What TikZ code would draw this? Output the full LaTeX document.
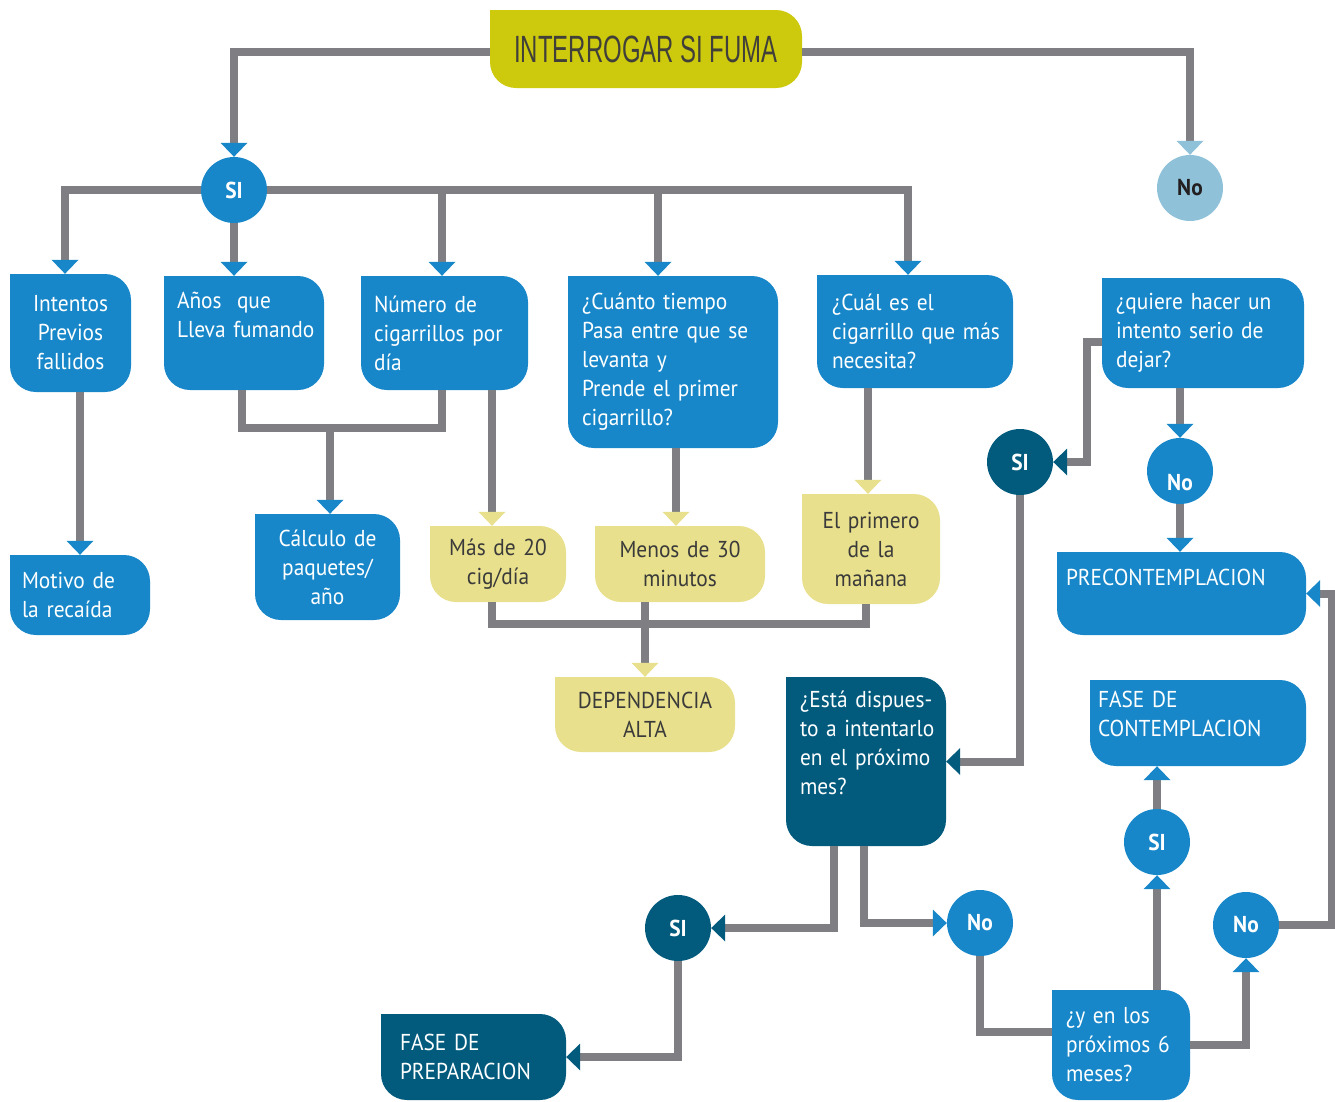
\documentclass[tikz,border=0pt]{standalone}
\usepackage{fontspec}
\setmainfont[FakeStretch=0.93]{PT Sans}
\newfontfamily\condfont[FakeStretch=0.63]{Liberation Sans}
\usetikzlibrary{arrows.meta,backgrounds}

\definecolor{flowblue}{HTML}{1787C9}
\definecolor{flowteal}{HTML}{025B7D}
\definecolor{flowlight}{HTML}{8FC1D9}
\definecolor{flowsand}{HTML}{E8E08C}
\definecolor{titleyellow}{HTML}{CDC90C}
\definecolor{linegrey}{HTML}{7F7F83}
\definecolor{textgrey}{HTML}{3A3A3A}
\definecolor{titlegrey}{HTML}{403F3A}
\definecolor{notext}{HTML}{231F20}

\hyphenpenalty=10000
\exhyphenpenalty=10000
\newcommand{\bodyfont}{\fontsize{23}{29}\selectfont}
\newcommand{\bubblefont}{\bfseries\fontsize{23}{23}\selectfont}
\newcommand{\headfont}{\condfont\fontsize{38}{40}\selectfont}

\tikzset{
  flowbox/.style={rounded corners=26pt, inner xsep=0pt, inner ysep=4pt, font=\bodyfont},
  bluebox/.style={flowbox, fill=flowblue, text=white},
  tealbox/.style={flowbox, fill=flowteal, text=white},
  sandbox/.style={flowbox, fill=flowsand, text=textgrey},
  titlebox/.style={flowbox, fill=titleyellow, text=titlegrey, font=\headfont},
  boxsize/.style n args={3}{minimum width=#1pt, minimum height=#2pt, text width=#3pt},
  bubble/.style={circle, minimum size=66pt, inner sep=0pt, font=\bubblefont, text=white},
  wire/.style={draw=linegrey, line width=8pt},
  endtip/.style={-{Triangle[width=27pt,length=14pt,line width=0pt,fill=#1,color=#1]}}
}

\begin{document}
\begin{tikzpicture}[x=1pt, y=-1pt]
  \useasboundingbox (0,0) rectangle (1335,1101);

  % top
  \node[titlebox, minimum width=312pt, minimum height=78pt] (title) at (646,49) {INTERROGAR SI FUMA};
  \node[bubble, fill=flowblue] (siTop) at (234,190) {SI};
  \node[bubble, fill=flowlight, text=notext] (noTop) at (1190,188) {No};

  % first row
  \node[bluebox, boxsize={121}{118}{110}, align=center] (intentos) at (70.5,333) {Intentos\\Previos\\fallidos};
  \node[bluebox, boxsize={160}{114}{134}, align=left] (anios) at (244,333) {Años\ \ que\\Lleva~fumando\par\vspace{36pt}};
  \node[bluebox, boxsize={167}{114}{141}, align=left] (numero) at (444.5,333) {Número de\\cigarrillos por\\día};
  \node[bluebox, boxsize={210}{172}{182}, align=left] (cuanto) at (673,362) {¿Cuánto tiempo\\Pasa entre que se\\levanta y\\Prende el primer\\cigarrillo?};
  \node[bluebox, boxsize={196}{113}{166}, align=left] (cual) at (915,331.5) {¿Cuál es el\\cigarrillo~que~más\\necesita?};
  \node[bluebox, boxsize={202}{110}{174}, align=left] (quiere) at (1203,333) {¿quiere hacer un\\intento serio de\\dejar?};

  % second row
  \node[bluebox, boxsize={140}{80}{116}, align=left] (motivo) at (80,595) {Motivo de\\la recaída};
  \node[bluebox, boxsize={145}{106}{130}, align=center] (calculo) at (327.5,567) {Cálculo de\\paquetes/\\año};
  \node[sandbox, boxsize={136}{76}{130}, align=center] (mas20) at (498,564) {Más de 20\\cig/día};
  \node[sandbox, boxsize={170}{76}{160}, align=center] (menos30) at (680,564) {Menos de 30\\minutos};
  \node[sandbox, boxsize={138}{110}{130}, align=center] (primero) at (871,549) {El primero\\de la\\mañana};
  \node[sandbox, boxsize={180}{75}{170}, align=center] (dep) at (645,714.5) {DEPENDENCIA\\ALTA};
  \node[bubble, fill=flowteal] (siR) at (1020,462) {SI};
  \node[bubble, fill=flowblue] (noR) at (1180,471) {\rule{0pt}{40pt}No};
  \node[bluebox, boxsize={249}{83}{231}, align=left] (precon) at (1181.5,593.5) {PRECONTEMPLACION\par\vspace{32pt}};

  % lower part
  \node[tealbox, boxsize={160}{169}{132}, align=left] (esta) at (866,761.5) {¿Está~dispues-\\to~a~intentarlo\\en el próximo\\mes?\par\vspace{38pt}};
  \node[bluebox, boxsize={216}{86}{200}, align=left] (contemp) at (1198,723) {FASE DE\\CONTEMPLACION\par\vspace{18pt}};
  \node[bubble, fill=flowblue] (siC) at (1157,842) {SI};
  \node[bubble, fill=flowteal] (siB) at (678,928) {SI};
  \node[bubble, fill=flowblue] (noB) at (980,923) {No};
  \node[bubble, fill=flowblue] (noC) at (1246,925) {No};
  \node[tealbox, boxsize={185}{86}{147}, align=left] (prep) at (473.5,1057) {FASE DE\\PREPARACION};
  \node[bluebox, boxsize={138}{110}{110}, align=left] (yen) at (1121,1045) {¿y en los\\próximos~6\\meses?};

  % square top-left corners
  \begin{scope}[on background layer]
    \foreach \n/\c in {title/titleyellow, intentos/flowblue, anios/flowblue, numero/flowblue,
        cuanto/flowblue, cual/flowblue, quiere/flowblue, motivo/flowblue, calculo/flowblue,
        mas20/flowsand, menos30/flowsand, primero/flowsand, dep/flowsand, precon/flowblue,
        esta/flowteal, contemp/flowblue, prep/flowteal, yen/flowblue}
      \fill[\c] (\n.north west) rectangle ++(26,26);
  \end{scope}

  % connectors
  \draw[wire, endtip=flowblue] ([yshift=-3pt]title.west) -| (siTop);
  \draw[wire, endtip=flowlight] ([yshift=-3pt]title.east) -| (noTop);
  \draw[wire, endtip=flowblue] (siTop) -| ([xshift=-5.5pt]intentos.north);
  \draw[wire, endtip=flowblue] (siTop) -- (siTop |- anios.north);
  \draw[wire, endtip=flowblue] (siTop) -| ([xshift=-2.5pt]numero.north);
  \draw[wire, endtip=flowblue] (siTop) -| ([xshift=-15pt]cuanto.north);
  \draw[wire, endtip=flowblue] (siTop) -| ([xshift=-7pt]cual.north);

  \draw[wire, endtip=flowblue] (intentos.south -| motivo.north) -- (motivo.north);
  \draw[wire] ([xshift=-2pt]anios.south) -- ++(0,38) -| ([xshift=-2.5pt]numero.south);
  \coordinate (joinA) at (330,428);
  \draw[wire, endtip=flowblue] (joinA) -- (joinA |- calculo.north);

  \draw[wire, endtip=flowsand] (492,0 |- numero.south) -- (492,0 |- mas20.north);
  \draw[wire, endtip=flowsand] (676,0 |- cuanto.south) -- (676,0 |- menos30.north);
  \draw[wire, endtip=flowsand] (868,0 |- cual.south) -- (868,0 |- primero.north);
  \draw[wire] (492,0 |- mas20.south) -- (492,624) -| (866,0 |- primero.south);
  \draw[wire, endtip=flowsand] (645,0 |- menos30.south) -- (645,0 |- dep.north);

  \draw[wire, endtip=flowteal] ([yshift=-9pt]quiere.west) -- ++(-15,0) |- (siR);
  \draw[wire, endtip=flowblue] (quiere.south -| noR) -- (noR);
  \draw[wire, endtip=flowblue] (noR) -- (noR |- precon.north);
  \draw[wire, endtip=flowteal] (siR) |- (esta);

  \draw[wire, endtip=flowteal] (834,0 |- esta.south) |- (siB);
  \draw[wire, endtip=flowblue] (864,0 |- esta.south) |- (noB);
  \draw[wire, endtip=flowteal] (siB) |- (prep);
  \draw[wire] (noB) |- ([yshift=13pt]yen.west);
  \draw[wire, endtip=flowblue] (yen.north -| siC) -- (siC);
  \draw[wire, endtip=flowblue] (siC) -- (siC |- contemp.south);
  \draw[wire, endtip=flowblue] (yen.east) -| (noC);
  \draw[wire, endtip=flowblue] (noC) -- (1332,0 |- noC) |- (precon);
\end{tikzpicture}
\end{document}
